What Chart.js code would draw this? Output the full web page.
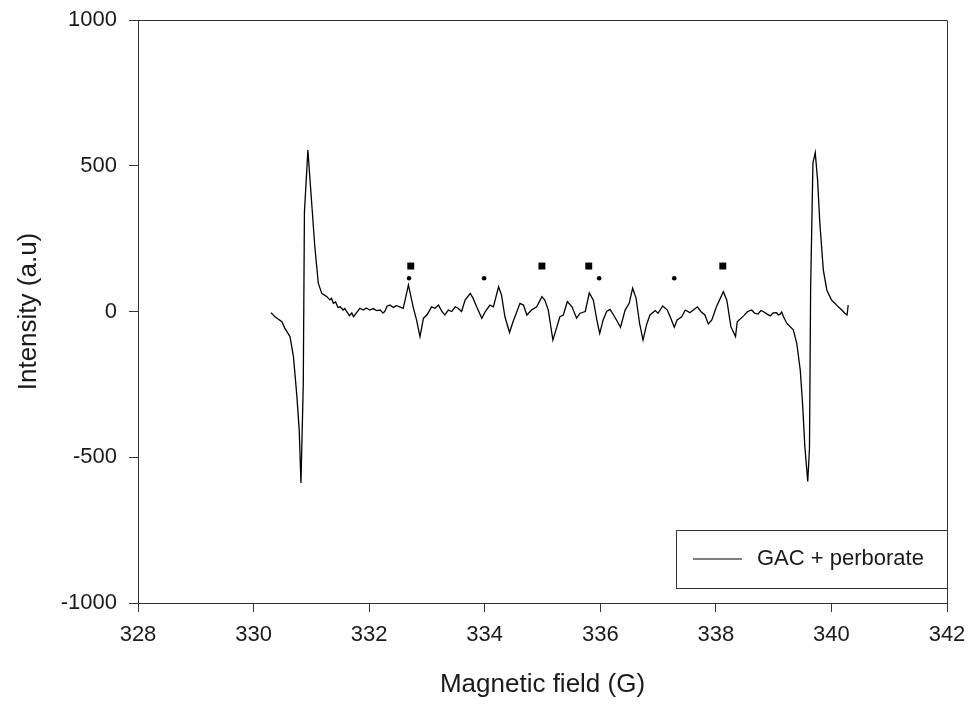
<!DOCTYPE html>
<html>
<head>
<meta charset="utf-8">
<script src="https://cdn.jsdelivr.net/npm/chart.js@4.4.1/dist/chart.umd.min.js"></script>
<style>
  html, body { margin: 0; padding: 0; background: #ffffff; }
  #wrap { width: 975px; height: 706px; }
</style>
</head>
<body>
<div id="wrap"><canvas id="c" width="975" height="706"></canvas></div>
<script>
// ---- data ----
const seriesLabel = "GAC + perborate";
const fieldG = [
  330.30, 330.37, 330.49, 330.54, 330.63, 330.69, 330.75, 330.79, 330.82, 330.86,
  330.88, 330.94, 330.97, 331.01, 331.06, 331.12, 331.18, 331.27, 331.32, 331.35,
  331.38, 331.42, 331.46, 331.50, 331.55, 331.58, 331.61, 331.66, 331.70, 331.73,
  331.78, 331.84, 331.90, 331.95, 332.01, 332.07, 332.13, 332.19, 332.24, 332.27,
  332.31, 332.36, 332.42, 332.47, 332.53, 332.59, 332.68,
  332.76, 332.82, 332.88, 332.94, 333.00, 333.08, 333.14, 333.20, 333.26, 333.31,
  333.37, 333.43, 333.49, 333.54, 333.60, 333.66, 333.75, 333.80, 333.86, 333.95,
  334.01, 334.09, 334.15, 334.24, 334.29, 334.35, 334.43, 334.49, 334.61, 334.67,
  334.73, 334.81, 334.90, 334.99, 335.04, 335.10, 335.18, 335.25, 335.30, 335.36,
  335.43, 335.51, 335.59, 335.65, 335.74, 335.81, 335.88, 335.94, 335.99, 336.05,
  336.11, 336.17, 336.23, 336.28, 336.35, 336.43, 336.50, 336.56, 336.62, 336.68,
  336.74, 336.80, 336.86, 336.95, 337.00, 337.08, 337.16, 337.22, 337.28, 337.33,
  337.41, 337.47, 337.55, 337.61, 337.68, 337.74, 337.81, 337.87, 337.93, 338.01,
  338.13, 338.19, 338.26, 338.34, 338.37, 338.48, 338.55, 338.62, 338.67, 338.73,
  338.78, 338.82, 338.88, 338.94, 338.99, 339.05, 339.08, 339.11, 339.14, 339.17,
  339.23, 339.34, 339.40, 339.46, 339.50, 339.54, 339.59,
  339.62, 339.64, 339.68, 339.72, 339.76, 339.80, 339.86, 339.92, 340.00, 340.05,
  340.09, 340.14, 340.18, 340.23, 340.27, 340.29
];
const intensity = [
  -4, -18, -35, -57, -86, -155, -292, -407, -588, -250,
  340, 554, 470, 360, 222, 97, 62, 51, 40, 45,
  28, 33, 14, 16, 5, 10, 0, -14, -5, -18,
  -5, 11, 5, 12, 5, 10, 3, 5, -5, 0,
  18, 22, 14, 20, 16, 11, 91,
  17, -29, -86, -23, -12, 16, 11, 22, 0, -12,
  5, 0, 16, 11, 0, 39, 62, 45, 16, -23,
  0, 22, 16, 85, 57, -18, -72, -35, 28, 22,
  -12, 5, 16, 51, 39, 5, -98, -52, -18, -12,
  34, 16, -23, -6, 0, 64, 39, -29, -75, -29,
  0, 7, -12, -29, -54, 5, 28, 80, 45, -41,
  -98, -46, -12, 3, -6, 19, 5, -23, -54, -29,
  -18, 5, -4, 5, 16, 0, -12, -43, -29, 16,
  68, 39, -52, -86, -35, -15, 0, 5, -6, -9,
  3, 0, -8, -15, -5, -4, -12, -9, -2, -18,
  -41, -63, -109, -200, -315, -463, -583,
  -470, 80, 509, 545, 451, 302, 142, 74, 40, 30,
  22, 12, 5, -6, -12, 22
];
// marker symbols above the hyperfine lines
const squareMarkG = [332.72, 334.99, 335.80, 338.12];
const squareMarkY = [156, 156, 156, 156];
const dotMarkG = [332.69, 333.99, 335.98, 337.28];
const dotMarkY = [114, 114, 114, 114];
// axes
const xTicks = [328, 330, 332, 334, 336, 338, 340, 342];
const yTicks = [-1000, -500, 0, 500, 1000];
const xTitle = "Magnetic field (G)";
const yTitle = "Intensity (a.u)";

const FONT = "'Liberation Sans', Arial, sans-serif";
const TEXT = "#1a1a1a";
const LINE = "#333333";

const toXY = (xs, ys) => xs.map((x, i) => ({ x: x, y: ys[i] }));

const framePlugin = {
  id: 'frame',
  afterDraw(chart) {
    const { ctx, chartArea: a } = chart;
    ctx.save();
    ctx.strokeStyle = LINE;
    ctx.lineWidth = 1;
    ctx.beginPath();
    ctx.moveTo(Math.round(a.left) + 0.5, Math.round(a.top) + 0.5);
    ctx.lineTo(Math.round(a.right) + 0.5, Math.round(a.top) + 0.5);
    ctx.lineTo(Math.round(a.right) + 0.5, Math.round(a.bottom) + 0.5);
    ctx.stroke();
    // legend box inside the plot area, lower right
    const bw = 271, bh = 58;
    const bx = Math.round(a.right) - bw, by = Math.round(a.bottom) - 73;
    ctx.fillStyle = '#ffffff';
    ctx.fillRect(bx, by, bw, bh);
    ctx.strokeStyle = LINE;
    ctx.strokeRect(bx + 0.5, by + 0.5, bw, bh);
    const cy = by + 29;
    ctx.strokeStyle = '#000000';
    ctx.lineWidth = 1.2;
    ctx.beginPath();
    ctx.moveTo(bx + 17, cy);
    ctx.lineTo(bx + 66, cy);
    ctx.stroke();
    ctx.fillStyle = TEXT;
    ctx.font = "22px " + FONT;
    ctx.textBaseline = 'middle';
    ctx.textAlign = 'left';
    ctx.fillText(chart.data.datasets[0].label, bx + 81, cy);
    ctx.restore();
  }
};

new Chart(document.getElementById('c'), {
  type: 'line',
  data: {
    datasets: [
      {
        label: seriesLabel,
        data: toXY(fieldG, intensity),
        borderColor: '#000000',
        borderWidth: 1.3,
        pointRadius: 0,
        tension: 0,
        fill: false
      },
      {
        label: 'squares',
        data: toXY(squareMarkG, squareMarkY),
        showLine: false,
        pointStyle: 'rect',
        pointRadius: 4.9,
        backgroundColor: '#000000',
        borderColor: '#000000',
        borderWidth: 0
      },
      {
        label: 'dots',
        data: toXY(dotMarkG, dotMarkY),
        showLine: false,
        pointStyle: 'circle',
        pointRadius: 2.3,
        backgroundColor: '#000000',
        borderColor: '#000000',
        borderWidth: 0
      }
    ]
  },
  options: {
    responsive: false,
    animation: false,
    events: [],
    layout: { padding: { left: 0, right: 28, top: 20, bottom: 0 } },
    plugins: {
      legend: { display: false },
      tooltip: { enabled: false }
    },
    scales: {
      x: {
        type: 'linear',
        min: 328,
        max: 342,
        afterBuildTicks: (s) => { s.ticks = xTicks.map(v => ({ value: v })); },
        afterFit: (s) => { s.height = 706 - 603; s.paddingLeft = 0; s.paddingRight = 0; },
        grid: { drawOnChartArea: false, drawTicks: true, tickLength: 9, color: LINE, lineWidth: 1 },
        border: { display: true, color: LINE, width: 1 },
        ticks: { color: TEXT, font: { family: FONT, size: 22 }, padding: 10, maxRotation: 0,
                 callback: (v) => String(v) },
        title: { display: true, text: xTitle, color: TEXT, font: { family: FONT, size: 26 }, padding: { top: 0, bottom: 6 } }
      },
      y: {
        type: 'linear',
        min: -1000,
        max: 1000,
        afterBuildTicks: (s) => { s.ticks = yTicks.map(v => ({ value: v })); },
        afterFit: (s) => { s.width = 138; s.paddingTop = 0; s.paddingBottom = 0; },
        grid: { drawOnChartArea: false, drawTicks: true, tickLength: 9, color: LINE, lineWidth: 1 },
        border: { display: true, color: LINE, width: 1 },
        ticks: { color: TEXT, font: { family: FONT, size: 22 }, padding: 12,
                 callback: (v) => String(v) },
        title: { display: true, text: yTitle, color: TEXT, font: { family: FONT, size: 26 }, padding: { top: 13, bottom: 0 } }
      }
    }
  },
  plugins: [framePlugin]
});
</script>
</body>
</html>
